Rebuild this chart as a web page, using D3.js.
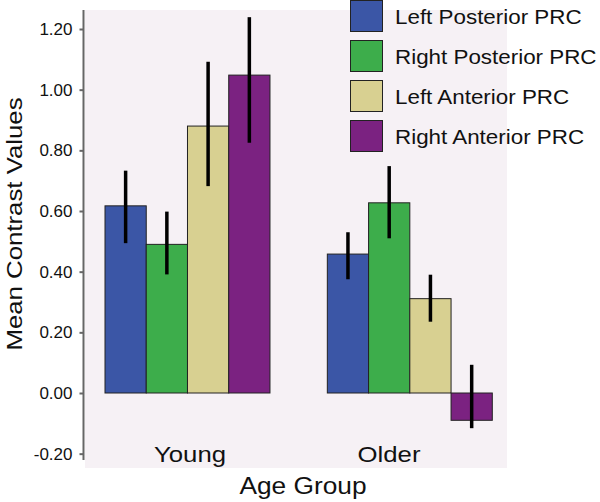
<!DOCTYPE html>
<html><head><meta charset="utf-8">
<script src="https://cdn.jsdelivr.net/npm/d3@7"></script>
<style>body{margin:0;background:#fff}svg{display:block}text{font-family:Arial,"Liberation Sans",sans-serif;fill:#111}</style>
</head><body><svg id="c" width="600" height="502"></svg>
<script>
const groups = ["Young", "Older"];
const series = ["Left Posterior PRC", "Right Posterior PRC", "Left Anterior PRC", "Right Anterior PRC"];
const colors = ["#3b56a6", "#3dad4b", "#d8d091", "#7b2281"];
const means = [[0.617, 0.49, 0.88, 1.048], [0.458, 0.627, 0.311, -0.09]];
const errLow = [[0.494, 0.391, 0.682, 0.825], [0.375, 0.51, 0.235, -0.116]];
const errHigh = [[0.733, 0.598, 1.092, 1.239], [0.53, 0.748, 0.39, 0.093]];
const yTicks = [-0.2, 0, 0.2, 0.4, 0.6, 0.8, 1.0, 1.2];

const svg = d3.select("#c");
const y = d3.scaleLinear().domain([0, 1.2]).range([393, 29]);
const x0 = d3.scaleBand().domain(groups).range([105, 492.3]).paddingInner(0.258).paddingOuter(0);
const x1 = d3.scaleBand().domain(series).range([0, x0.bandwidth()]);
const xLab = d3.scalePoint().domain(groups).range([190, 389]);

// plot background
svg.append("rect").attr("x", 85).attr("y", 10).attr("width", 422).attr("height", 458).attr("fill", "#f6f1f5");

// y axis
const ax = svg.append("g").attr("transform", "translate(83.5,0)")
  .call(d3.axisLeft(y).tickValues(yTicks).tickFormat(d => d3.format(".2f")(d).replace("\u2212", "-")).tickSize(4).tickPadding(7));
ax.select(".domain").attr("d", "M0,10V460").attr("stroke", "#666").attr("stroke-width", 2);
ax.selectAll(".tick line").attr("stroke", "#666").attr("stroke-width", 2);
ax.selectAll(".tick text").attr("font-size", 17).attr("fill", "#222").attr("font-family", "Arial, 'Liberation Sans', sans-serif");

// bars
const g = svg.selectAll(".grp").data(groups).join("g").attr("transform", d => `translate(${x0(d)},0)`);
g.each(function (grp, gi) {
  const sel = d3.select(this);
  sel.selectAll("rect").data(series).join("rect")
    .attr("x", s => x1(s)).attr("width", x1.bandwidth())
    .attr("y", (s, i) => y(Math.max(0, means[gi][i])))
    .attr("height", (s, i) => Math.abs(y(means[gi][i]) - y(0)))
    .attr("fill", (s, i) => colors[i]).attr("stroke", "#222").attr("stroke-width", 1);
  sel.selectAll("line").data(series).join("line")
    .attr("x1", s => x1(s) + x1.bandwidth() / 2).attr("x2", s => x1(s) + x1.bandwidth() / 2)
    .attr("y1", (s, i) => y(errLow[gi][i])).attr("y2", (s, i) => y(errHigh[gi][i]))
    .attr("stroke", "#000").attr("stroke-width", 3.5);
});

function stext(parent, x, y, rot, sx, size, anchor, str) {
  const t = parent.append("g").attr("transform", `translate(${x},${y}) rotate(${rot}) scale(${sx},1)`);
  t.append("text").attr("text-anchor", anchor).attr("font-size", size).text(str);
  return t;
}

// category labels
groups.forEach(gname => stext(svg, xLab(gname), 462, 0, 1.12, 23, "middle", gname));

// axis titles
stext(svg, 303, 494, 0, 1.12, 23.5, "middle", "Age Group");
stext(svg, 22, 224, -90, 1.2, 21.5, "middle", "Mean Contrast Values");

// legend
const lg = svg.selectAll(".lg").data(series).join("g").attr("class", "lg")
  .attr("transform", (d, i) => `translate(350,${i * 40})`);
lg.append("rect").attr("x", 0.5).attr("y", 0.5).attr("width", 32).attr("height", 31)
  .attr("fill", (d, i) => colors[i]).attr("stroke", "#222").attr("stroke-width", 1);
lg.each(function (d) { stext(d3.select(this), 45, 23.5, 0, 1.12, 20, "start", d); });
</script></body></html>
